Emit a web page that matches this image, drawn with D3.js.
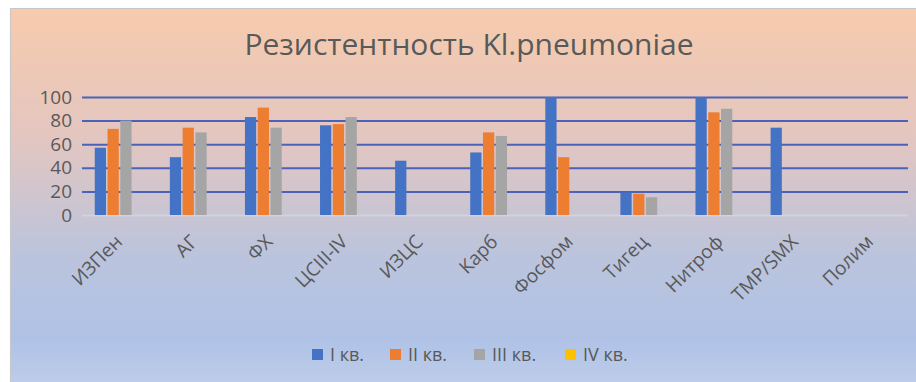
<!DOCTYPE html>
<html>
<head>
<meta charset="utf-8">
<script src="https://cdn.jsdelivr.net/npm/d3@7"></script>
<style>
  html, body { margin: 0; padding: 0; background: #ffffff; }
  svg { display: block; }
</style>
</head>
<body>
<svg id="chart" width="916" height="382"></svg>
<script>
// Antibiotic groups
const categories = ["ИЗПен", "АГ", "ФХ", "ЦСIII-IV", "ИЗЦС", "Карб", "Фосфом", "Тигец", "Нитроф", "TMP/SMX", "Полим"];
// Resistance (%) per quarter
const q1 = [57, 49, 83, 76, 46, 53, 100, 19, 100, 74, 0];
const q2 = [73, 74, 91, 77, 0, 70, 49, 18, 87, 0, 0];
const q3 = [80, 70, 74, 83, 0, 67, 0, 15, 90, 0, 0];
const q4 = [0, 0, 0, 0, 0, 0, 0, 0, 0, 0, 0];
const seriesNames = ["I кв.", "II кв.", "III кв.", "IV кв."];
const yTicks = [0, 20, 40, 60, 80, 100];

const seriesValues = [q1, q2, q3, q4];
const colors = ["#4472c4", "#ed7d31", "#a5a5a5", "#ffc000"];
const textColor = "#595959";
const font = "'Open Sans', 'Noto Sans', sans-serif";

const svg = d3.select("#chart");
const W = 916, H = 382;

// Chart area background
const defs = svg.append("defs");
const grad = defs.append("linearGradient").attr("id", "bg").attr("x1", 0).attr("y1", 0).attr("x2", 0).attr("y2", 1);
grad.append("stop").attr("offset", "0%").attr("stop-color", "#f7cbad");
grad.append("stop").attr("offset", "35%").attr("stop-color", "#e3c6c1");
grad.append("stop").attr("offset", "65%").attr("stop-color", "#bcc4dc");
grad.append("stop").attr("offset", "88%").attr("stop-color", "#afc2e6");
grad.append("stop").attr("offset", "100%").attr("stop-color", "#bccce9");

svg.append("rect").attr("x", 10).attr("y", 9).attr("width", W - 10).attr("height", H - 9)
  .attr("fill", "url(#bg)");
svg.append("path").attr("d", `M10.5,${H} V8.5 H${W}`)
  .attr("fill", "none").attr("stroke", "#c8c8c8").attr("stroke-width", 1.2);

// Title
svg.append("text")
  .attr("x", 469).attr("y", 55)
  .attr("text-anchor", "middle")
  .attr("font-family", font)
  .attr("font-size", 30)
  .attr("fill", textColor)
  .text("Резистентность Kl.pneumoniae");

// Scales
const plotLeft = 82, plotRight = 908, plotTop = 97, plotBottom = 215;
const x = d3.scaleBand().domain(categories).range([plotLeft, plotRight]).paddingInner(0.34).paddingOuter(0.17);
const xs = d3.scaleBand().domain(seriesNames).range([0, x.bandwidth()]).paddingInner(0.12);
const y = d3.scaleLinear().domain([0, 100]).range([plotBottom, plotTop]);

// Gridlines
const yAxis = d3.axisLeft(y).tickValues(yTicks).tickSize(-(plotRight - plotLeft)).tickPadding(10);
const gy = svg.append("g").attr("transform", `translate(${plotLeft},0)`).call(yAxis);
gy.select(".domain").remove();
gy.selectAll(".tick line")
  .attr("stroke", d => d === 0 ? "#d0d4de" : "#4a62b8")
  .attr("stroke-width", 2);
gy.selectAll(".tick text")
  .attr("font-family", font)
  .attr("font-size", 19)
  .attr("fill", textColor)
  .attr("x", -10);

// Bars
const groups = svg.append("g").selectAll("g")
  .data(categories)
  .join("g")
  .attr("transform", d => `translate(${x(d)},0)`);

groups.selectAll("rect")
  .data((c, i) => seriesValues.map((vals, s) => ({ s: seriesNames[s], v: vals[i], k: s })))
  .join("rect")
  .attr("x", d => xs(d.s))
  .attr("width", xs.bandwidth())
  .attr("y", d => y(d.v))
  .attr("height", d => y(0) - y(d.v))
  .attr("fill", d => colors[d.k]);

// Category axis
const xAxis = d3.axisBottom(x).tickSize(0).tickPadding(0);
const gx = svg.append("g").attr("transform", `translate(0,${plotBottom})`).call(xAxis);
gx.select(".domain").remove();
gx.selectAll(".tick text")
  .attr("font-family", font)
  .attr("font-size", 19)
  .attr("fill", textColor)
  .attr("text-anchor", "end")
  .attr("dy", null)
  .attr("y", 0)
  .attr("transform", "translate(4,28) rotate(-45)");

// Legend
const legendItems = [
  { name: seriesNames[0], c: colors[0], x: 312 },
  { name: seriesNames[1], c: colors[1], x: 390 },
  { name: seriesNames[2], c: colors[2], x: 474 },
  { name: seriesNames[3], c: colors[3], x: 565 }
];
const lg = svg.append("g").selectAll("g").data(legendItems).join("g")
  .attr("transform", d => `translate(${d.x},349)`);
lg.append("rect").attr("width", 11).attr("height", 11).attr("fill", d => d.c);
lg.append("text")
  .attr("x", 18).attr("y", 12)
  .attr("font-family", font)
  .attr("font-size", 18)
  .attr("fill", textColor)
  .text(d => d.name);
</script>
</body>
</html>
